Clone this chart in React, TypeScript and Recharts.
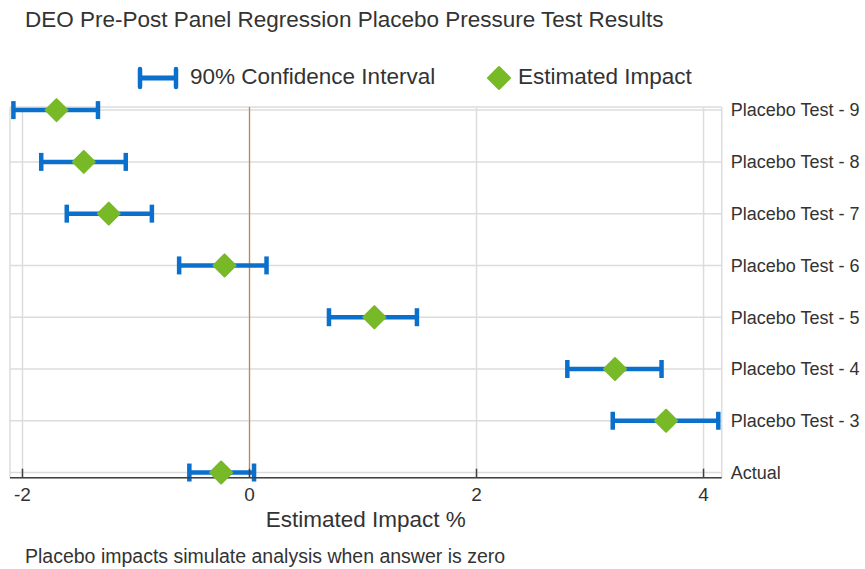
import React from "react";
import {
  CartesianGrid,
  ErrorBar,
  Label,
  ReferenceLine,
  Scatter,
  ScatterChart,
  XAxis,
  YAxis,
} from "recharts";

// rows bottom -> top
const categories = [
  "Actual",
  "Placebo Test - 3",
  "Placebo Test - 4",
  "Placebo Test - 5",
  "Placebo Test - 6",
  "Placebo Test - 7",
  "Placebo Test - 8",
  "Placebo Test - 9",
];
const estimates = [-0.25, 3.67, 3.22, 1.1, -0.22, -1.24, -1.46, -1.7];
const lowerCI = [-0.53, 3.2, 2.8, 0.7, -0.62, -1.61, -1.835, -2.08];
const upperCI = [0.04, 4.13, 3.63, 1.475, 0.15, -0.86, -1.09, -1.335];
const xTicks = [-2, 0, 2, 4];

const BLUE = "#0b6fcc";
const GREEN = "#78b928";
const ORANGE = "#f07a1a";
const TEXT = "#333";

const rows = categories.map((name, i) => ({
  name,
  pos: i,
  est: estimates[i],
  // asymmetric error: [below, above]
  err: [estimates[i] - lowerCI[i], upperCI[i] - estimates[i]],
}));

const Diamond = (props: any) => {
  const { cx, cy } = props;
  const r = 11;
  return (
    <path
      d={`M${cx},${cy - r}L${cx + r},${cy}L${cx},${cy + r}L${cx - r},${cy}Z`}
      fill={GREEN}
      stroke={GREEN}
      strokeWidth={2}
      strokeLinejoin="round"
    />
  );
};

const Nothing = () => <g />;

export default function App() {
  return (
    <div
      style={{
        position: "absolute",
        left: 0,
        top: 0,
        width: 865,
        height: 569,
        background: "#fff",
        fontFamily: "'Liberation Sans', Arial, sans-serif",
        color: TEXT,
      }}
    >
      <div
        style={{
          position: "absolute",
          left: 25,
          top: 9,
          fontSize: 22.5,
          lineHeight: "22.5px",
          whiteSpace: "nowrap",
        }}
      >
        DEO Pre-Post Panel Regression Placebo Pressure Test Results
      </div>

      {/* legend */}
      <svg
        style={{ position: "absolute", left: 136, top: 66 }}
        width={46}
        height={24}
      >
        <line x1={4} y1={12} x2={40} y2={12} stroke={BLUE} strokeWidth={5} />
        <line x1={4} y1={3} x2={4} y2={21} stroke={BLUE} strokeWidth={4.5} strokeLinecap="round" />
        <line x1={40} y1={3} x2={40} y2={21} stroke={BLUE} strokeWidth={4.5} strokeLinecap="round" />
      </svg>
      <div
        style={{
          position: "absolute",
          left: 190,
          top: 66,
          fontSize: 22.5,
          lineHeight: "22.5px",
          whiteSpace: "nowrap",
        }}
      >
        90% Confidence Interval
      </div>
      <svg
        style={{ position: "absolute", left: 486, top: 65 }}
        width={26}
        height={26}
      >
        <path d="M13,2L24,13L13,24L2,13Z" fill={GREEN} stroke={GREEN} strokeWidth={2} strokeLinejoin="round" />
      </svg>
      <div
        style={{
          position: "absolute",
          left: 518,
          top: 66,
          fontSize: 22.5,
          lineHeight: "22.5px",
          whiteSpace: "nowrap",
        }}
      >
        Estimated Impact
      </div>

      <div style={{ position: "absolute", left: 0, top: 0 }}>
        <ScatterChart
          width={865}
          height={569}
          margin={{ top: 107, left: 10, right: 3.3, bottom: 31.3 }}
        >
          <CartesianGrid stroke="#dcdcdc" strokeWidth={1.5} />
          <XAxis
            type="number"
            dataKey="est"
            domain={[-2.11, 4.16]}
            ticks={xTicks}
            height={60}
            tickSize={-9}
            tickMargin={19}
            axisLine={{ stroke: "#404040", strokeWidth: 1.5 }}
            tickLine={{ stroke: "#404040", strokeWidth: 1.5 }}
            tick={{ fontSize: 19, fill: TEXT }}
          >
            <Label
              value="Estimated Impact %"
              position="insideBottom"
              offset={11}
              style={{ fontSize: 22.5, fill: TEXT }}
            />
          </XAxis>
          <YAxis
            type="number"
            dataKey="pos"
            orientation="right"
            domain={[-0.1, 7.06]}
            ticks={categories.map((_, i) => i)}
            interval={0}
            width={140}
            axisLine={false}
            tickLine={false}
            tickSize={0}
            tickMargin={9}
            tickFormatter={(v: number) => categories[v] ?? ""}
            tick={{ fontSize: 18, fill: TEXT }}
          />
          <ReferenceLine x={0} stroke={ORANGE} strokeWidth={1.2} />
          <Scatter data={rows} shape={Nothing} isAnimationActive={false}>
            <ErrorBar
              dataKey="err"
              direction="x"
              width={9}
              stroke={BLUE}
              strokeWidth={4.5}
              isAnimationActive={false}
            />
          </Scatter>
          <Scatter data={rows} shape={Diamond} isAnimationActive={false} />
        </ScatterChart>
      </div>

      <div
        style={{
          position: "absolute",
          left: 25,
          top: 547,
          fontSize: 19.5,
          lineHeight: "19.5px",
          whiteSpace: "nowrap",
        }}
      >
        Placebo impacts simulate analysis when answer is zero
      </div>
    </div>
  );
}
